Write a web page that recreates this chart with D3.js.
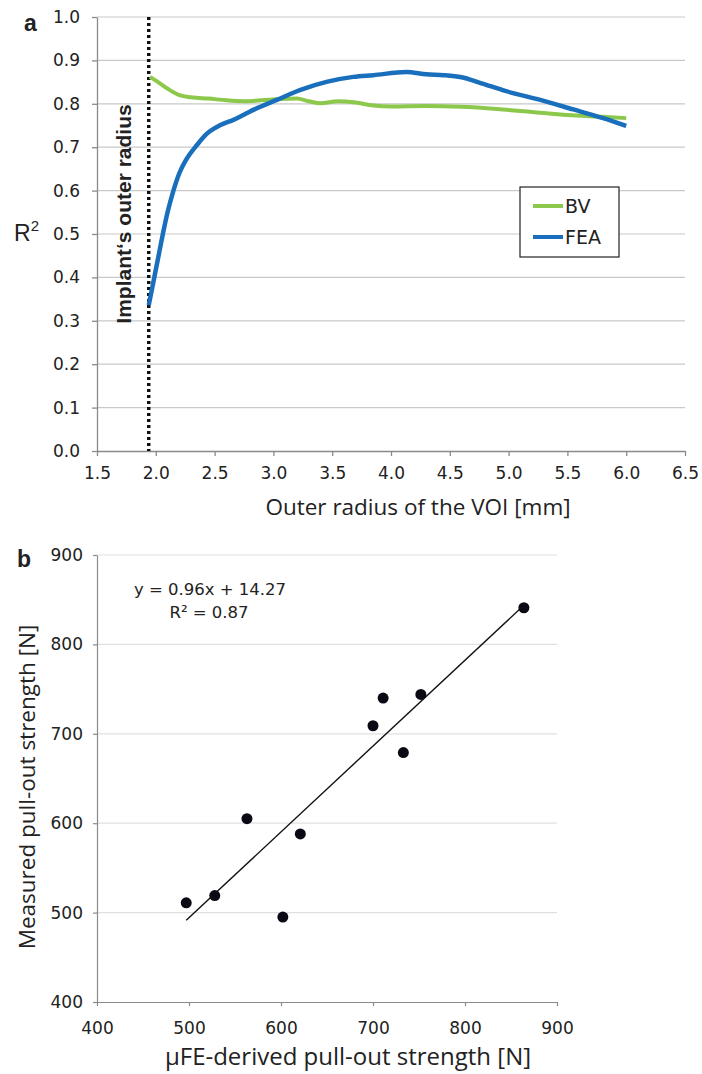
<!DOCTYPE html>
<html>
<head>
<meta charset="utf-8">
<script src="https://cdn.jsdelivr.net/npm/d3@7"></script>
<style>
  body { margin: 0; background: #fff; }
  text { fill: #222; }
</style>
</head>
<body>
<div id="chart"></div>
<script>
// panel a data
const radiusBV = [1.95, 2.02, 2.1, 2.2, 2.3, 2.45, 2.6, 2.75, 2.9, 3.05, 3.2, 3.3, 3.4, 3.55, 3.7, 3.85, 4.0, 4.3, 4.6, 4.9, 5.2, 5.5, 5.8, 6.0]
const r2BV = [0.862, 0.85, 0.835, 0.82, 0.815, 0.812, 0.808, 0.806, 0.808, 0.811, 0.812, 0.806, 0.801, 0.806, 0.803, 0.796, 0.794, 0.795, 0.793, 0.788, 0.781, 0.774, 0.77, 0.767]
const radiusFEA = [1.94, 1.98, 2.02, 2.06, 2.1, 2.15, 2.2, 2.26, 2.35, 2.43, 2.55, 2.66, 2.83, 3.03, 3.23, 3.46, 3.68, 3.85, 4.13, 4.3, 4.45, 4.6, 4.75, 4.98, 5.27, 5.55, 5.84, 6.0]
const r2FEA = [0.336, 0.39, 0.445, 0.5, 0.55, 0.6, 0.64, 0.672, 0.705, 0.73, 0.751, 0.763, 0.786, 0.809, 0.832, 0.851, 0.862, 0.866, 0.873, 0.868, 0.866, 0.861, 0.849, 0.829, 0.809, 0.787, 0.764, 0.749]
const implantRadius = 1.94
const xTicksA = [1.5, 2.0, 2.5, 3.0, 3.5, 4.0, 4.5, 5.0, 5.5, 6.0, 6.5]
const yTicksA = [0, 0.1, 0.2, 0.3, 0.4, 0.5, 0.6, 0.7, 0.8, 0.9, 1.0]
const seriesNames = ["BV", "FEA"]

// panel b data
const feStrength = [497, 528, 563, 621, 602, 700, 711, 733, 752, 864]
const measStrength = [511, 519, 605, 588, 495, 709, 740, 679, 744, 841]
const fitSlope = 0.96
const fitIntercept = 14.27
const ticksB = [400, 500, 600, 700, 800, 900]

const tickFont = "'DejaVu Sans', sans-serif"
const titleFont = "'Open Sans', sans-serif"
const colorBV = "#8cc84b"
const colorFEA = "#1a6fbd"

let svg = d3.select("#chart").append("svg")
  .attr("width", 702)
  .attr("height", 1074)
  .style("font-family", tickFont)

svg.append("rect").attr("width", 702).attr("height", 1074).attr("fill", "#fff")

//---------- panel a
let xA = d3.scaleLinear().domain([1.5, 6.5]).range([97, 685])
let yA = d3.scaleLinear().domain([0, 1]).range([451, 17])

let gA = svg.append("g")

// gridlines
gA.selectAll(".gridA")
  .data(yTicksA.filter(d => d > 0))
  .enter().append("line")
  .attr("x1", xA(1.5)).attr("x2", xA(6.5))
  .attr("y1", d => yA(d)).attr("y2", d => yA(d))
  .attr("stroke", "#c9c9c9").attr("stroke-width", 1.2)

// axes
gA.append("g")
  .attr("transform", "translate(0," + yA(0) + ")")
  .call(d3.axisBottom(xA).tickValues(xTicksA).tickFormat(d3.format(".1f")).tickSize(5).tickSizeOuter(0))
  .call(g => g.selectAll("line, path").attr("stroke", "#8a8a8a").attr("stroke-width", 1.3))
  .call(g => g.selectAll("text").attr("font-family", tickFont).attr("font-size", 17).attr("y", 13).attr("dy", "0.9em").attr("fill", "#222"))

gA.append("g")
  .attr("transform", "translate(" + xA(1.5) + ",0)")
  .call(d3.axisLeft(yA).tickValues(yTicksA).tickFormat(d3.format(".1f")).tickSize(5).tickSizeOuter(0))
  .call(g => g.selectAll("line, path").attr("stroke", "#8a8a8a").attr("stroke-width", 1.3))
  .call(g => g.selectAll("text").attr("font-family", tickFont).attr("font-size", 17).attr("x", -17).attr("fill", "#222"))

// dotted implant line
gA.append("line")
  .attr("x1", xA(implantRadius)).attr("x2", xA(implantRadius))
  .attr("y1", yA(1)).attr("y2", yA(0))
  .attr("stroke", "#111").attr("stroke-width", 3.5)
  .attr("stroke-dasharray", "3,3")

gA.append("text")
  .attr("transform", "translate(" + (xA(implantRadius) - 18) + "," + 214 + ") rotate(-90)")
  .attr("text-anchor", "middle")
  .attr("font-family", "'Liberation Sans', Arial, sans-serif")
  .attr("font-size", 21)
  .attr("font-weight", "bold")
  .text("Implant‘s outer radius")

let lineA = d3.line().curve(d3.curveMonotoneX)

gA.append("path")
  .attr("d", lineA(radiusBV.map((d, i) => [xA(d), yA(r2BV[i])])))
  .attr("fill", "none").attr("stroke", colorBV).attr("stroke-width", 4)

gA.append("path")
  .attr("d", lineA(radiusFEA.map((d, i) => [xA(d), yA(r2FEA[i])])))
  .attr("fill", "none").attr("stroke", colorFEA).attr("stroke-width", 4.5)

// legend
let legend = gA.append("g")
legend.append("rect")
  .attr("x", 520).attr("y", 187).attr("width", 99).attr("height", 70)
  .attr("fill", "#fff").attr("stroke", "#222").attr("stroke-width", 1.2)
let legendColors = [colorBV, colorFEA]
seriesNames.forEach((d, i) => {
  legend.append("line")
    .attr("x1", 533).attr("x2", 563)
    .attr("y1", 206 + i * 31).attr("y2", 206 + i * 31)
    .attr("stroke", legendColors[i]).attr("stroke-width", 4)
  legend.append("text")
    .attr("x", 565).attr("y", 213 + i * 31)
    .attr("font-size", 19)
    .text(d)
})

// titles
svg.append("text").attr("x", 24).attr("y", 31).attr("font-family", "'Liberation Sans', Arial, sans-serif")
  .attr("font-size", 23).attr("font-weight", "bold").text("a")

let r2label = svg.append("text").attr("x", 14).attr("y", 241).attr("font-family", "'Liberation Sans', Arial, sans-serif").attr("font-size", 23)
r2label.append("tspan").text("R")
r2label.append("tspan").attr("font-size", 15).attr("dy", -10).text("2")

svg.append("text")
  .attr("x", 418).attr("y", 515)
  .attr("text-anchor", "middle")
  .attr("font-family", titleFont)
  .attr("font-size", 22.5)
  .text("Outer radius of the VOI [mm]")

//---------- panel b
let xB = d3.scaleLinear().domain([400, 900]).range([97, 557])
let yB = d3.scaleLinear().domain([400, 900]).range([1002, 555])

let gB = svg.append("g")

gB.selectAll(".gridB")
  .data(ticksB.filter(d => d > 400))
  .enter().append("line")
  .attr("x1", xB(400)).attr("x2", xB(900))
  .attr("y1", d => yB(d)).attr("y2", d => yB(d))
  .attr("stroke", "#e0e0e0").attr("stroke-width", 1.2)

gB.append("g")
  .attr("transform", "translate(0," + yB(400) + ")")
  .call(d3.axisBottom(xB).tickValues(ticksB).tickSize(4).tickSizeOuter(0))
  .call(g => g.selectAll("line, path").attr("stroke", "#8a8a8a").attr("stroke-width", 1.2))
  .call(g => g.selectAll("text").attr("font-family", tickFont).attr("font-size", 17).attr("y", 17).attr("dy", "0.9em").attr("fill", "#222"))

gB.append("g")
  .attr("transform", "translate(" + xB(400) + ",0)")
  .call(d3.axisLeft(yB).tickValues(ticksB).tickSize(4).tickSizeOuter(0))
  .call(g => g.selectAll("line, path").attr("stroke", "#8a8a8a").attr("stroke-width", 1.2))
  .call(g => g.selectAll("text").attr("font-family", tickFont).attr("font-size", 17).attr("x", -14).attr("fill", "#222"))

// trend line
let fitX = d3.extent(feStrength)
gB.append("line")
  .attr("x1", xB(fitX[0])).attr("y1", yB(fitSlope * fitX[0] + fitIntercept))
  .attr("x2", xB(fitX[1])).attr("y2", yB(fitSlope * fitX[1] + fitIntercept))
  .attr("stroke", "#111").attr("stroke-width", 1.4)

gB.selectAll(".dot")
  .data(feStrength)
  .enter().append("circle")
  .attr("cx", d => xB(d))
  .attr("cy", (d, i) => yB(measStrength[i]))
  .attr("r", 5.5)
  .attr("fill", "#0a0a14")

gB.append("text")
  .attr("x", 210).attr("y", 595)
  .attr("text-anchor", "middle").attr("font-size", 16.5)
  .text("y = 0.96x + 14.27")
gB.append("text")
  .attr("x", 209).attr("y", 618)
  .attr("text-anchor", "middle").attr("font-size", 16.5)
  .text("R² = 0.87")

svg.append("text").attr("x", 17).attr("y", 567).attr("font-family", "'Liberation Sans', Arial, sans-serif")
  .attr("font-size", 23).attr("font-weight", "bold").text("b")

svg.append("text")
  .attr("transform", "translate(35,787) rotate(-90)")
  .attr("text-anchor", "middle")
  .attr("font-family", titleFont)
  .attr("font-size", 22.5)
  .text("Measured pull-out strength [N]")

svg.append("text")
  .attr("x", 348).attr("y", 1065)
  .attr("text-anchor", "middle")
  .attr("font-family", titleFont)
  .attr("font-size", 24)
  .text("µFE-derived pull-out strength [N]")
</script>
</body>
</html>
